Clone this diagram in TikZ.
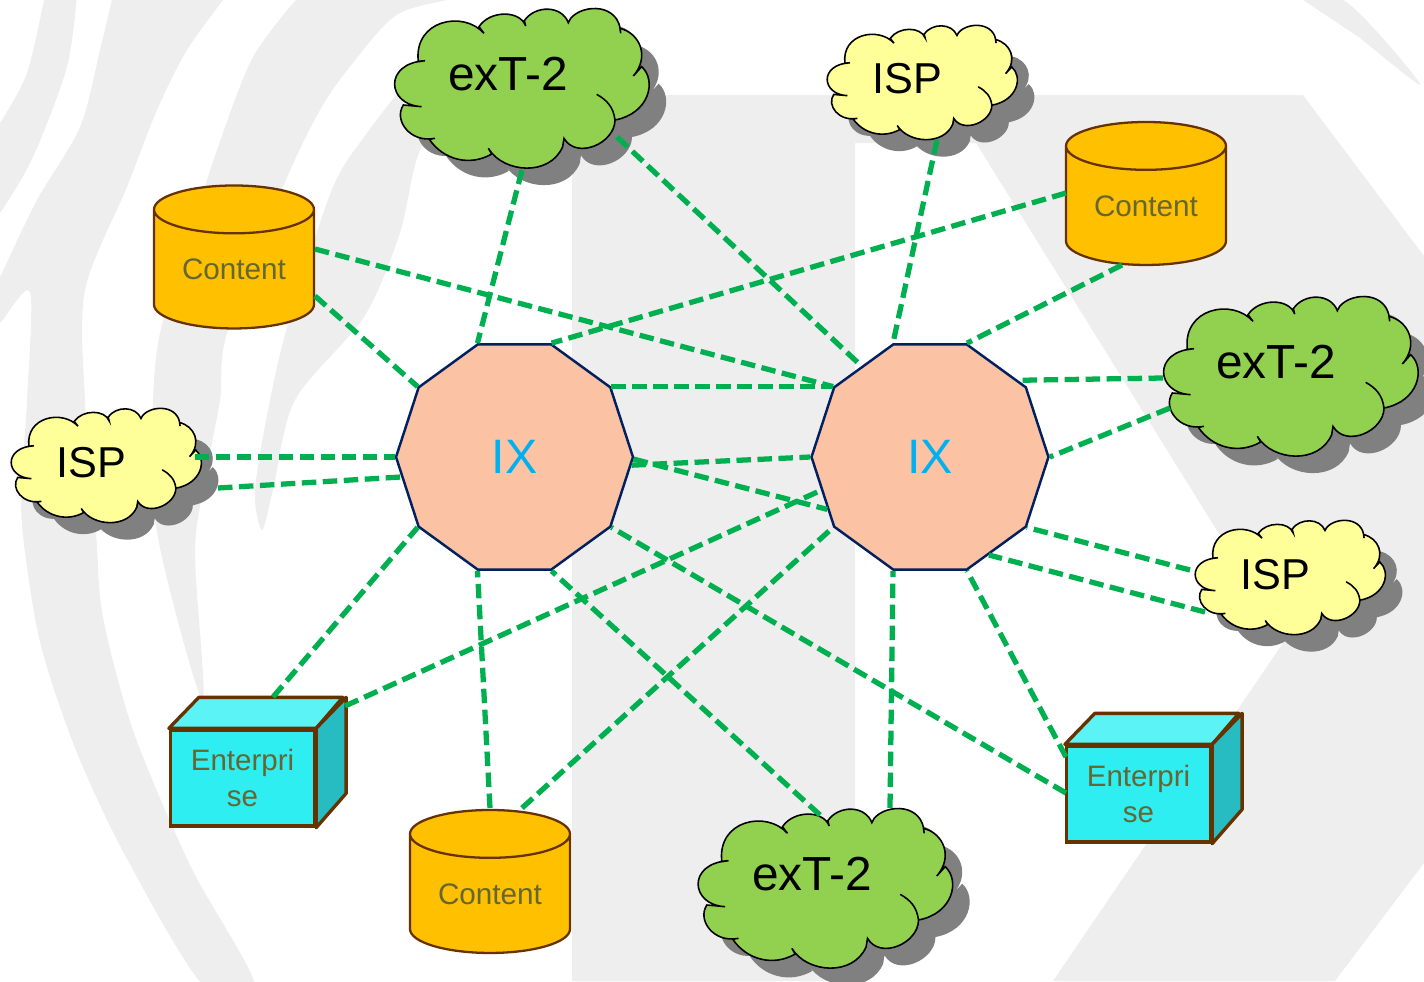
\documentclass[tikz,border=0pt]{standalone}
\usepackage{fontspec}
\setmainfont{Liberation Sans}
\usetikzlibrary{shapes.geometric}

\definecolor{fondo}{HTML}{EEEEEE}
\definecolor{verdearista}{HTML}{00B050}
\definecolor{marron}{HTML}{663300}
\definecolor{olivo}{HTML}{666633}
\definecolor{verdenube}{HTML}{92D050}
\definecolor{amarillonube}{HTML}{FFFF99}

\def\nubepath{(115,185) .. controls (100,60) and (250,30) .. (312,100) -- (297,80)
  .. controls (330,30) and (420,30) .. (437,78) -- (433,62)
  .. controls (465,15) and (545,15) .. (565,68) -- (572,55)
  .. controls (610,10) and (720,10) .. (722,100) -- (720,85)
  .. controls (780,100) and (810,170) .. (760,228) -- (785,200)
  .. controls (830,240) and (810,340) .. (705,360)
  .. controls (700,320) and (680,300) .. (650,283)
  .. controls (680,300) and (700,320) .. (705,360)
  .. controls (705,430) and (590,480) .. (552,415) -- (548,440)
  .. controls (510,530) and (370,520) .. (325,445) -- (335,462)
  .. controls (270,500) and (190,480) .. (148,418) -- (165,415)
  .. controls (90,430) and (40,360) .. (70,315) -- (125,320)
  .. controls (20,315) and (10,190) .. (135,182) -- cycle}

\tikzset{
  arista/.style={verdearista, line width=3pt, dash pattern=on 0.29cm off 0.13cm},
  ix/.style={regular polygon, regular polygon sides=10, minimum size=4.74cm, inner sep=0pt,
    draw={rgb,255:red,0;green,32;blue,96}, line width=1.4pt, fill={rgb,255:red,251;green,194;blue,163},
    text={rgb,255:red,0;green,176;blue,240}, font=\fontsize{27.5}{30}\selectfont},
  deposito/.style={cylinder, shape border rotate=90, aspect=0.46, minimum width=3.2cm, minimum height=2.86cm,
    draw=marron, line width=1.3pt, fill={rgb,255:red,255;green,192;blue,0}, text=olivo, inner sep=0pt,
    font=\fontsize{16.9}{20}\selectfont},
  caja/.style={rectangle, minimum width=2.88cm, minimum height=1.92cm, inner sep=0pt, align=center,
    draw=marron, line width=1.9pt, fill={rgb,255:red,46;green,238;blue,242}, text=olivo,
    font=\fontsize{16.8}{20}\selectfont},
  cajalado/.style={draw=marron, line width=1.9pt, line join=round},
  textonube/.style={inner sep=0pt, font=\fontsize{#1}{30}\selectfont},
  pics/nube/.style n args={3}{code={
    \fill[gray, shift={(17,17)}, xscale=#1, yscale=#2, shift={(-424.5,-267)}] \nubepath;
    \draw[black, line width=0.9pt, fill=#3, xscale=#1, yscale=#2, shift={(-424.5,-267)}] \nubepath;
  }}
}

\begin{document}
\begin{tikzpicture}[x=0.02cm, y=-0.02cm]
  \useasboundingbox (0,0) rectangle (1424,981);

  % Fondo
  \fill[fondo] (572,95) -- (1303,95) -- (1424,256) -- (1424,863) -- (1335,981) -- (1053,981)
    -- (1285,640) -- (976,143) -- (855,143) -- (855,981) -- (572,981) -- cycle;
  \fill[fondo] plot[smooth] coordinates {(45,-5) (27,73) (0,123) (-10,135) (-10,220) (0,213) (33,157) (67,67) (77,-5)};
  \fill[fondo] plot[smooth, tension=.5] coordinates {(113,-5) (100,50) (80,127) (37,200) (0,277) (-10,295) (-10,325) (0,323) (30,292)
    (27,400) (21,500) (27,567) (42,650) (77,753) (126,857) (203,985) (255,985) (191,867) (134,733) (103,617) (96,533)
    (85,400) (85,290) (127,187) (157,110) (187,50) (227,-5)};
  \fill[fondo] plot[smooth, tension=.5] coordinates {(300,-5) (253,57) (217,150) (185,250) (160,333) (153,400) (153,500) (168,583)
    (203,700) (195,553) (205,480) (220,400) (227,333) (283,187) (320,110) (353,63) (400,13) (477,-5)};
  \fill[fondo] plot[smooth, tension=.5] coordinates {(430,50) (400,90) (367,133) (333,187) (290,317) (270,400) (255,490) (262,530)
    (273,490) (295,400) (364,317) (400,233) (420,150) (470,60)};
  \fill[fondo] plot[smooth] coordinates {(1300,-2) (1340,-2) (1380,35) (1420,85) (1360,38)};

  % Nubes
  \pic at (521.5,89) {nube={0.3333}{0.3333}{verdenube}};
  \pic at (922,83) {nube={0.249}{0.2387}{amarillonube}};
  \pic at (1290.5,377) {nube={0.3333}{0.3333}{verdenube}};
  \pic at (1290,578) {nube={0.249}{0.2387}{amarillonube}};
  \pic at (825,889) {nube={0.3333}{0.3333}{verdenube}};
  \pic at (106,466) {nube={0.249}{0.2387}{amarillonube}};

  \node[textonube=27.2] (extsup) at (508,74) {exT-2};
  \node[textonube=27.2] (extder) at (1276,362) {exT-2};
  \node[textonube=27.2] (extinf) at (812,874) {exT-2};
  \node[textonube=24.6] (ispsup) at (907,79) {ISP};
  \node[textonube=24.6] (ispder) at (1275,575) {ISP};
  \node[textonube=24.6] (ispizq) at (91,463) {ISP};

  % Centrales
  \node[ix] (ixl) at (514.5,457) {IX};
  \node[ix] (ixr) at (930,457) {IX};

  % Depositos
  \node[deposito] (conizq) at (234,269.5) {Content};
  \node[deposito] (conder) at (1146,206) {Content};
  \node[deposito] (coninf) at (490,894) {Content};

  % Cajas
  \node[caja] (empizq) at (242.5,778) {Enterpri\\se};
  \node[caja] (empder) at (1138.5,794) {Enterpri\\se};
  \foreach \n in {empizq,empder} {
    \draw[cajalado, fill={rgb,255:red,92;green,243;blue,246}] (\n.north west) -- ++(30,-31) -- ++(144,0) -- (\n.north east) -- cycle;
    \draw[cajalado, fill={rgb,255:red,39;green,188;blue,194}] (\n.north east) -- ++(30,-31) -- ++(0,96) -- (\n.south east) -- cycle;
  }

  % Extremos libres
  \foreach \n/\x/\y in {a/522/170, b/617/137, c/937/140, d/1066/193, e/1122/265, f/315/249, g/315/296,
      h/1163/378, i/1170/408, j/1190/570, k/1205/612, l/1066/757, m/1066/793, n/890/808, o/820/815,
      p/490/808, q/522/808, r/273/697, s/345/706, t/195/457, u/218/488}
    \coordinate (p\n) at (\x,\y);

  % Aristas
  \foreach \a/\b in {pa/ixl.corner 2, pb/ixr.127, pc/ixr.corner 2, pd/ixl.corner 1, pe/ixr.corner 1,
      pf/ixr.corner 3, pg/ixl.corner 3, ixl.corner 10/ixr.corner 3, ixl.356/ixr.corner 4, ixl.359/ixr.207,
      ph/ixr.41, pi/ixr.corner 9, pj/ixr.corner 8, pk/ixr.301, pl/ixr.corner 7, pm/ixl.corner 8,
      pn/ixr.corner 6, po/ixl.corner 7, pp/ixl.corner 6, pq/ixr.corner 5, pr/ixl.corner 5, ps/ixr.197,
      pt/ixl.corner 4, pu/ixl.190}
    \draw[arista] (\a) -- (\b);
\end{tikzpicture}
\end{document}
